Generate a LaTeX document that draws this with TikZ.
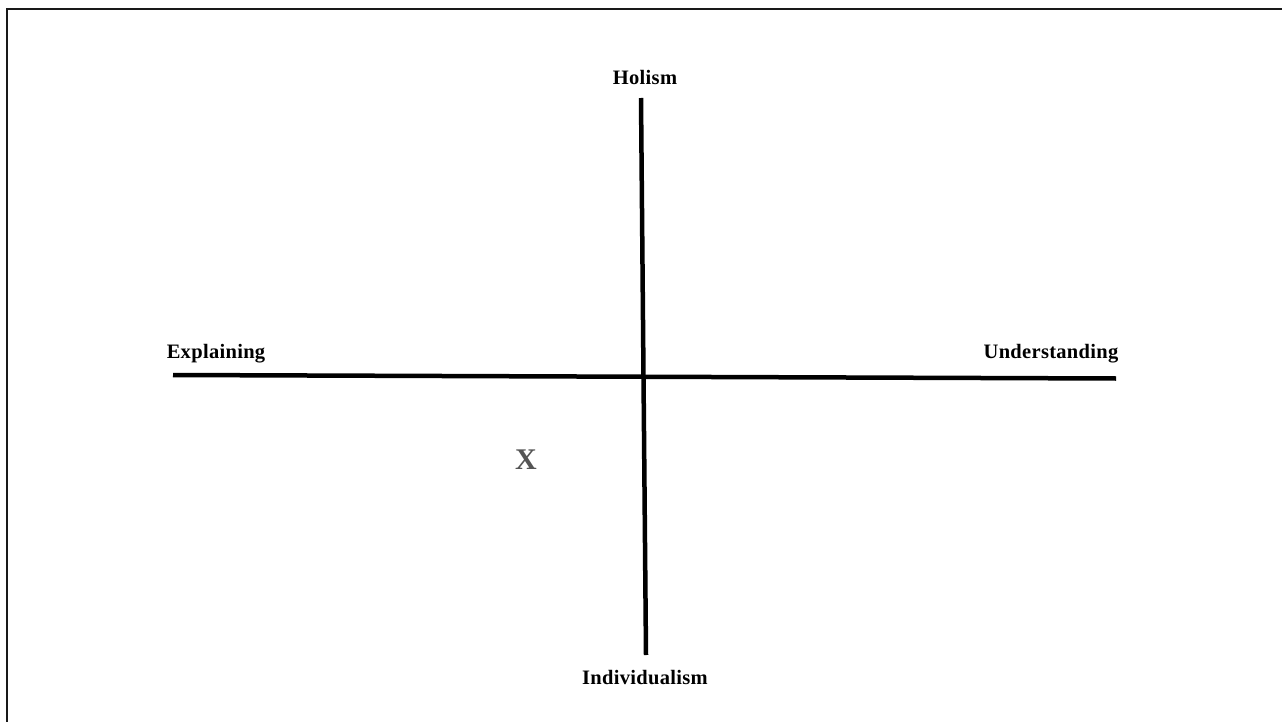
\documentclass[tikz,border=0pt]{standalone}
\usepackage{fontspec}
\setmainfont{Liberation Serif}
\definecolor{xgray}{HTML}{555555}
\begin{document}
\begin{tikzpicture}[x=1pt,y=-1pt,
  lbl/.style={anchor=base,inner sep=0pt,font=\fontsize{20.5}{22}\selectfont\bfseries\addfontfeature{LetterSpace=1.5}},
  axis/.style={line width=4.5pt,black},
  frame/.style={line width=2pt,black!90}]
\useasboundingbox (0,0) rectangle (1282,722);
\fill[white] (0,0) rectangle (1282,722);
% frame (top and left only)
\coordinate (fbl) at (7,722);
\coordinate (ftl) at (7,9);
\coordinate (ftr) at (1282,9);
\draw[frame] (fbl) -- (ftl) -- (ftr);
% axes
\coordinate (vtop) at (641,98);
\coordinate (vbot) at (646,655);
\coordinate (hleft) at (173,375);
\coordinate (hright) at (1116,378.5);
\draw[axis] (vtop) -- (vbot);
\draw[axis] (hleft) -- (hright);
% labels
\node[lbl] (holism) at (645,85) {Holism};
\node[lbl] (expl) at (216,358) {Explaining};
\node[lbl] (under) at (1051,358) {Understanding};
\node[lbl] (indiv) at (645,684) {Individualism};
\node[anchor=base,inner sep=0pt,text=xgray,font=\fontsize{30}{32}\selectfont\bfseries] (x) at (526,469) {X};
\end{tikzpicture}
\end{document}
